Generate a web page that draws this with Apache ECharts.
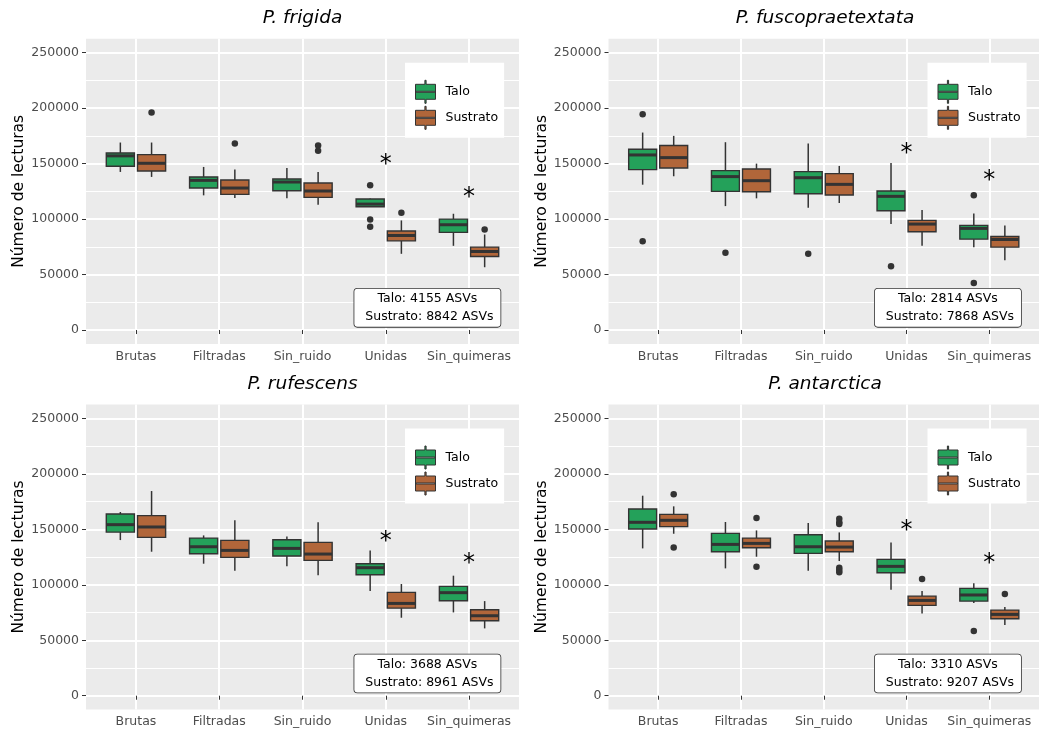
<!DOCTYPE html>
<html>
<head>
<meta charset="utf-8">
<script src="https://cdn.jsdelivr.net/npm/echarts@6/dist/echarts.min.js"></script>
<style>
  html, body { margin: 0; padding: 0; background: #ffffff; }
  #chart { width: 1039px; height: 734px; }
</style>
</head>
<body>
<div id="chart"></div>
<script>
// Processing steps on the x axis
const categories = ['Brutas', 'Filtradas', 'Sin_ruido', 'Unidas', 'Sin_quimeras'];
const speciesNames = ['P. frigida', 'P. fuscopraetextata', 'P. rufescens', 'P. antarctica'];
const groups = ['Talo', 'Sustrato'];
const groupColors = ['#24a15a', '#b1663a'];

// Five-number summaries per step: [lower whisker, Q1, median, Q3, upper whisker]
const frigidaTalo = [
  [142500, 147600, 157000, 159600, 169000],
  [121400, 128000, 134900, 138000, 147000],
  [118700, 125600, 133400, 136100, 146100],
  [110800, 111100, 113500, 118100, 118600],
  [75900, 88000, 94900, 100000, 104800]
];
const frigidaSustrato = [
  [138000, 143400, 150300, 158100, 169000],
  [119000, 122300, 128000, 135200, 144600],
  [112900, 119600, 125300, 132500, 142500],
  [68700, 80400, 85200, 89200, 98800],
  [56600, 66300, 70800, 74700, 86100]
];
const fuscoTalo = [
  [131000, 144600, 157800, 163000, 178000],
  [111700, 125000, 138300, 143700, 169300],
  [110200, 122900, 137300, 142800, 168100],
  [95500, 107500, 120500, 125300, 150600],
  [74700, 81900, 91600, 94300, 105100]
];
const fuscoSustrato = [
  [138600, 146100, 155400, 166300, 175000],
  [118700, 124700, 134600, 145200, 150000],
  [114500, 121700, 131300, 141000, 147900],
  [75900, 88600, 95500, 98800, 108100],
  [62900, 74700, 81600, 84300, 94300]
];
const rufescensTalo = [
  [140300, 147500, 154200, 163800, 165600],
  [119000, 128000, 134300, 142100, 144500],
  [116600, 125900, 132800, 140600, 143600],
  [94400, 109100, 115400, 119000, 131000],
  [75100, 85600, 92900, 98600, 108200]
];
const rufescensSustrato = [
  [129800, 142700, 152100, 162300, 184500],
  [112700, 124700, 131000, 140000, 158100],
  [108500, 122000, 127700, 138200, 156300],
  [70300, 79000, 83200, 93200, 100700],
  [60700, 67600, 72100, 77500, 85300]
];
const antarcticaTalo = [
  [132800, 150300, 156300, 168300, 180300],
  [114800, 129800, 136400, 146300, 156600],
  [112700, 128300, 134300, 145100, 155700],
  [95600, 110900, 116600, 122900, 138200],
  [83500, 85300, 90800, 96800, 101300]
];
const antarcticaSustrato = [
  [146000, 152400, 158100, 163500, 170700],
  [125300, 133400, 137300, 142100, 149000],
  [121400, 129800, 134000, 139400, 147200],
  [74200, 81400, 85900, 89800, 94400],
  [63700, 69400, 73300, 77200, 79900]
];

// Outlying samples: [step index, reads]
const frigidaTaloOut = [[3, 130400], [3, 99700], [3, 93100]];
const frigidaSustratoOut = [[0, 196100], [1, 168100], [2, 166300], [2, 161700], [3, 105700], [4, 90700]];
const fuscoTaloOut = [[0, 194600], [0, 80100], [1, 69600], [2, 68700], [3, 57500], [4, 121400], [4, 42500]];
const fuscoSustratoOut = [];
const rufescensTaloOut = [];
const rufescensSustratoOut = [];
const antarcticaTaloOut = [[4, 58300]];
const antarcticaSustratoOut = [[0, 181500], [0, 133700], [1, 160200], [1, 116300],
  [2, 159600], [2, 156300], [2, 154800], [2, 115400], [2, 113300], [2, 111200], [3, 105200], [4, 91700]];

// Significance marks: [step index, height]
const frigidaStars = [[3, 152600], [4, 122600]];
const fuscoStars = [[3, 162900], [4, 138200]];
const rufescensStars = [[3, 142800], [4, 122300]];
const antarcticaStars = [[3, 152000], [4, 122300]];

// Total ASVs per species
const asvTalo = [4155, 2814, 3688, 3310];
const asvSustrato = [8842, 7868, 8961, 9207];

// Axis breaks
const yBreaks = [0, 50000, 100000, 150000, 200000, 250000];
const yMinorBreaks = [25000, 75000, 125000, 175000, 225000];
const xBreaks = [1, 2, 3, 4, 5];

const panelData = [
  { talo: frigidaTalo, sust: frigidaSustrato, taloOut: frigidaTaloOut, sustOut: frigidaSustratoOut, stars: frigidaStars },
  { talo: fuscoTalo, sust: fuscoSustrato, taloOut: fuscoTaloOut, sustOut: fuscoSustratoOut, stars: fuscoStars },
  { talo: rufescensTalo, sust: rufescensSustrato, taloOut: rufescensTaloOut, sustOut: rufescensSustratoOut, stars: rufescensStars },
  { talo: antarcticaTalo, sust: antarcticaSustrato, taloOut: antarcticaTaloOut, sustOut: antarcticaSustratoOut, stars: antarcticaStars }
];

// Panel geometry
const PANEL_W = 433;
const PANEL_H = 305.1;
const panelPos = [
  { left: 86, top: 38.8 },
  { left: 608.5, top: 38.8 },
  { left: 86, top: 404.5 },
  { left: 608.5, top: 404.5 }
];
const DODGE = 0.1875;
const BOX_W = 0.3375;
const INK = '#333333';
const FONT = 'DejaVu Sans';

function boxRenderer(offset, color) {
  return function (params, api) {
    const x = api.value(0) + offset;
    const lo = api.coord([x, api.value(1)]);
    const q1 = api.coord([x, api.value(2)]);
    const md = api.coord([x, api.value(3)]);
    const q3 = api.coord([x, api.value(4)]);
    const hi = api.coord([x, api.value(5)]);
    const half = api.size([BOX_W, 0])[0] / 2;
    const cx = lo[0];
    return {
      type: 'group',
      children: [
        { type: 'line', shape: { x1: cx, y1: hi[1], x2: cx, y2: q3[1] }, style: { stroke: INK, lineWidth: 1.5 } },
        { type: 'line', shape: { x1: cx, y1: q1[1], x2: cx, y2: lo[1] }, style: { stroke: INK, lineWidth: 1.5 } },
        { type: 'rect', shape: { x: cx - half, y: q3[1], width: half * 2, height: q1[1] - q3[1] },
          style: { fill: color, stroke: INK, lineWidth: 1.4 } },
        { type: 'line', shape: { x1: cx - half, y1: md[1], x2: cx + half, y2: md[1] }, style: { stroke: INK, lineWidth: 3 } }
      ]
    };
  };
}

function starRenderer(params, api) {
  const p = api.coord([api.value(0), api.value(1)]);
  return {
    type: 'text',
    x: p[0], y: p[1] + 4,
    style: { text: '*', fontSize: 24, fontFamily: FONT, fill: '#000', align: 'center', verticalAlign: 'middle' }
  };
}

function noteRenderer(i) {
  return function (params, api) {
    const p = api.coord([api.value(0), api.value(1)]);
    return {
      type: 'text',
      x: p[0], y: p[1],
      style: {
        text: 'Talo: ' + asvTalo[i] + ' ASVs\n Sustrato: ' + asvSustrato[i] + ' ASVs',
        fontSize: 12.5, fontFamily: FONT, fill: '#000', align: 'center', verticalAlign: 'middle',
        lineHeight: 18, backgroundColor: '#ffffff', borderColor: INK, borderWidth: 0.8,
        borderRadius: 3, padding: [1, 7, 1, 7]
      }
    };
  };
}

const grid = [], xAxis = [], yAxis = [], series = [], title = [], legend = [];
const legendIcon = 'path://M0,4 L9.4,4 L9.4,0 L10.6,0 L10.6,4 L20,4 L20,19 L10.6,19 L10.6,23 L9.4,23 L9.4,19 L0,19 Z ' +
  'M0.6,11 L0.6,12 L19.4,12 L19.4,11 Z';

panelPos.forEach(function (pos, i) {
  grid.push({
    left: pos.left, top: pos.top, width: PANEL_W, height: PANEL_H,
    show: true, backgroundColor: '#ebebeb', borderWidth: 0
  });
  xAxis.push({
    type: 'value', gridIndex: i, min: 0.4, max: 5.6,
    axisLine: { show: false },
    axisTick: { show: true, customValues: xBreaks, length: 4, lineStyle: { color: INK, width: 1 } },
    axisLabel: {
      customValues: xBreaks, margin: 6, color: '#4d4d4d', fontSize: 12.5, fontFamily: FONT,
      formatter: function (v) { return categories[Math.round(v) - 1] || ''; }
    },
    splitLine: { show: true, lineStyle: { color: '#ffffff', width: 2 } }
  });
  yAxis.push({
    type: 'value', gridIndex: i, min: -12500, max: 262500,
    name: 'Número de lecturas', nameLocation: 'middle', nameGap: 52,
    nameTextStyle: { color: '#000', fontSize: 15.5, fontFamily: FONT },
    axisLine: { show: false },
    axisTick: { show: true, customValues: yBreaks, length: 4, lineStyle: { color: INK, width: 1 } },
    axisLabel: {
      customValues: yBreaks, margin: 7, color: '#4d4d4d', fontSize: 12.5, fontFamily: FONT,
      formatter: function (v) { return String(v); }
    },
    splitLine: { show: true, lineStyle: { color: '#ffffff', width: 2 } }
  });
  yAxis.push({
    type: 'value', gridIndex: i, min: -12500, max: 262500, position: 'left',
    axisLine: { show: false },
    axisTick: { show: false, customValues: yMinorBreaks },
    axisLabel: { show: false, customValues: yMinorBreaks },
    splitLine: { show: true, lineStyle: { color: '#ffffff', width: 1 } }
  });

  const d = panelData[i];
  [d.talo, d.sust].forEach(function (boxes, g) {
    const off = g === 0 ? -DODGE : DODGE;
    series.push({
      type: 'custom', name: groups[g], xAxisIndex: i, yAxisIndex: 2 * i,
      itemStyle: { color: groupColors[g], borderColor: INK, borderWidth: 1 },
      encode: { x: 0, y: [1, 2, 3, 4, 5] },
      renderItem: boxRenderer(off, groupColors[g]),
      data: boxes.map(function (b, k) { return [k + 1].concat(b); }),
      z: 3
    });
  });
  [d.taloOut, d.sustOut].forEach(function (pts, g) {
    const off = g === 0 ? -DODGE : DODGE;
    series.push({
      type: 'scatter', name: groups[g] + ' (atípicos)', xAxisIndex: i, yAxisIndex: 2 * i,
      symbol: 'circle', symbolSize: 6.5, itemStyle: { color: INK, opacity: 1 },
      data: pts.map(function (p) { return [p[0] + 1 + off, p[1]]; }),
      z: 4
    });
  });
  series.push({
    type: 'custom', name: 'significancia', xAxisIndex: i, yAxisIndex: 2 * i,
    encode: { x: 0, y: 1 }, renderItem: starRenderer,
    data: d.stars.map(function (s) { return [s[0] + 1, s[1]]; }), z: 5
  });
  series.push({
    type: 'custom', name: 'ASVs', xAxisIndex: i, yAxisIndex: 2 * i,
    encode: { x: 0, y: 1 }, renderItem: noteRenderer(i),
    data: [[4.5, 20000]], z: 5
  });

  title.push({
    text: speciesNames[i], left: pos.left + PANEL_W / 2, top: pos.top - 30, textAlign: 'center',
    padding: 0,
    textStyle: { fontFamily: FONT, fontStyle: 'italic', fontWeight: 'normal', fontSize: 18.5, color: '#000' }
  });
  legend.push({
    data: groups, orient: 'vertical', left: pos.left + 319, top: pos.top + 24,
    backgroundColor: '#ffffff', padding: [17, 6, 8, 10],
    itemWidth: 20, itemHeight: 23, itemGap: 2, icon: legendIcon,
    itemStyle: { borderColor: INK, borderWidth: 1 },
    textStyle: { fontFamily: FONT, fontSize: 12.5, color: '#000', padding: [0, 0, 0, 5] },
    selectedMode: false
  });
});

const chart = echarts.init(document.getElementById('chart'), null, { renderer: 'canvas' });
chart.setOption({
  animation: false,
  backgroundColor: '#ffffff',
  textStyle: { fontFamily: FONT },
  title: title,
  legend: legend,
  grid: grid,
  xAxis: xAxis,
  yAxis: yAxis,
  series: series
});
</script>
</body>
</html>
